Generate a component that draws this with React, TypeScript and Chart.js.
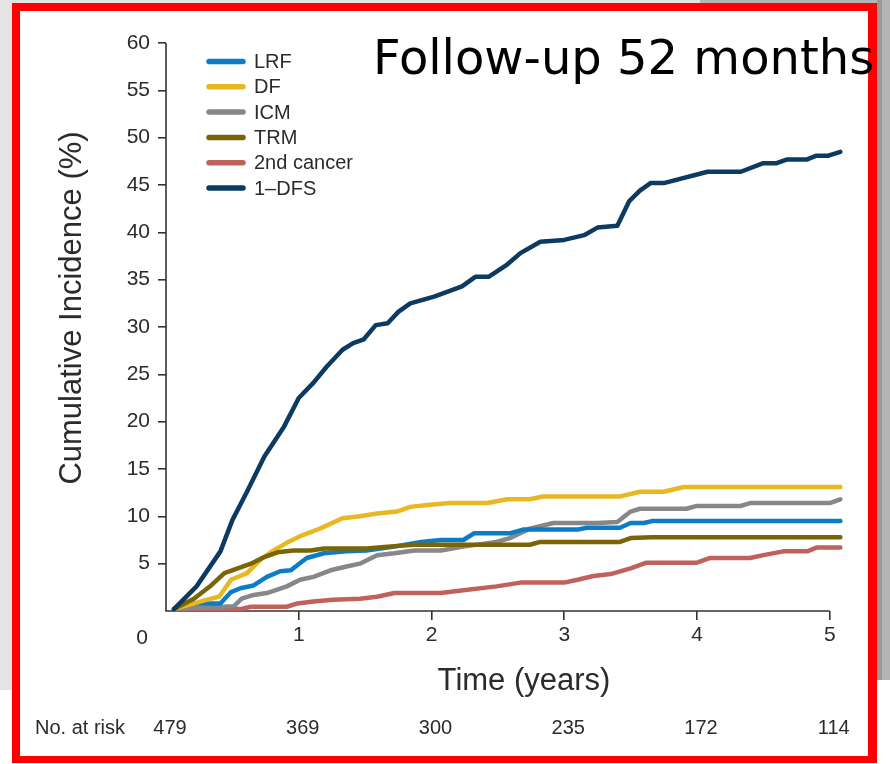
import React, { useEffect, useRef } from 'react';
import { Chart, registerables } from 'chart.js';

Chart.register(...registerables);

// ---- data (time in years, cumulative incidence in %) ----
const lrfT = [0.06, 0.11, 0.41, 0.49, 0.56, 0.66, 0.76, 0.86, 0.94, 1.06, 1.19, 1.36, 1.51, 1.72, 1.92, 2.07, 2.24, 2.32, 2.59, 2.69, 3.1, 3.17, 3.42, 3.5, 3.6, 3.66, 5.08];
const lrfV = [0.2, 0.8, 0.8, 2.0, 2.4, 2.7, 3.6, 4.2, 4.3, 5.6, 6.1, 6.3, 6.4, 6.8, 7.3, 7.5, 7.5, 8.2, 8.2, 8.6, 8.6, 8.8, 8.8, 9.3, 9.3, 9.5, 9.5];

const dfT = [0.06, 0.31, 0.4, 0.49, 0.61, 0.71, 0.81, 0.91, 1.01, 1.16, 1.33, 1.46, 1.59, 1.74, 1.84, 1.97, 2.14, 2.42, 2.57, 2.74, 2.84, 3.42, 3.57, 3.75, 3.9, 5.08];
const dfV = [0.2, 1.2, 1.5, 3.3, 4.0, 5.4, 6.4, 7.2, 7.9, 8.7, 9.8, 10.0, 10.3, 10.5, 11.0, 11.2, 11.4, 11.4, 11.8, 11.8, 12.1, 12.1, 12.6, 12.6, 13.1, 13.1];

const icmT = [0.06, 0.51, 0.57, 0.66, 0.76, 0.91, 1.01, 1.11, 1.24, 1.36, 1.46, 1.59, 1.72, 1.87, 2.07, 2.24, 2.49, 2.59, 2.74, 2.92, 3.25, 3.4, 3.5, 3.57, 3.92, 4.0, 4.33, 4.4, 5.0, 5.08];
const icmV = [0.2, 0.5, 1.3, 1.7, 1.9, 2.6, 3.3, 3.6, 4.3, 4.7, 5.0, 5.9, 6.1, 6.4, 6.4, 6.8, 7.3, 7.7, 8.7, 9.3, 9.3, 9.4, 10.5, 10.8, 10.8, 11.1, 11.1, 11.4, 11.4, 11.8];

const trmT = [0.06, 0.21, 0.34, 0.44, 0.54, 0.64, 0.74, 0.84, 0.96, 1.09, 1.19, 1.51, 1.67, 1.87, 2.74, 2.82, 3.42, 3.5, 3.66, 5.08];
const trmV = [0.2, 1.3, 2.7, 4.0, 4.5, 5.0, 5.7, 6.2, 6.4, 6.4, 6.6, 6.6, 6.8, 7.0, 7.0, 7.3, 7.3, 7.7, 7.8, 7.8];

const secT = [0.06, 0.56, 0.64, 0.91, 0.99, 1.11, 1.26, 1.46, 1.59, 1.72, 2.07, 2.24, 2.49, 2.67, 3.0, 3.1, 3.22, 3.35, 3.5, 3.62, 4.0, 4.1, 4.4, 4.5, 4.65, 4.83, 4.9, 5.08];
const secV = [0.2, 0.2, 0.45, 0.45, 0.8, 1.0, 1.2, 1.3, 1.5, 1.9, 1.9, 2.2, 2.6, 3.0, 3.0, 3.3, 3.7, 3.9, 4.5, 5.1, 5.1, 5.6, 5.6, 5.9, 6.3, 6.3, 6.7, 6.7];

const dfsT = [0.06, 0.23, 0.41, 0.5, 0.61, 0.74, 0.89, 1.0, 1.11, 1.21, 1.33, 1.41, 1.49, 1.58, 1.67, 1.75, 1.84, 2.02, 2.23, 2.33, 2.43, 2.57, 2.67, 2.82, 3.0, 3.15, 3.25, 3.4, 3.49, 3.57, 3.65, 3.75, 4.08, 4.33, 4.5, 4.6, 4.68, 4.83, 4.9, 4.99, 5.08];
const dfsV = [0.2, 2.6, 6.3, 9.6, 12.6, 16.3, 19.5, 22.5, 24.1, 25.8, 27.6, 28.3, 28.7, 30.2, 30.4, 31.6, 32.5, 33.2, 34.3, 35.3, 35.3, 36.6, 37.8, 39.0, 39.2, 39.7, 40.5, 40.7, 43.3, 44.4, 45.2, 45.2, 46.4, 46.4, 47.3, 47.3, 47.7, 47.7, 48.1, 48.1, 48.5];

const seriesLabels = ['LRF', 'DF', 'ICM', 'TRM', '2nd cancer', '1\u2013DFS'];
const seriesColors = ['#0b7dc6', '#e9b722', '#87878a', '#7b6406', '#c0625b', '#0c3a60'];

const yTickValues = [5, 10, 15, 20, 25, 30, 35, 40, 45, 50, 55, 60];
const xTickValues = [1, 2, 3, 4, 5];

const atRiskYears = [0, 1, 2, 3, 4, 5];
const atRisk = [479, 369, 300, 235, 172, 114];

const FONT = '"Liberation Sans", Arial, Helvetica, sans-serif';
const TEXT = '#2b2b2b';
const AXIS = '#333333';

const pts = (t: number[], v: number[]) => t.map((x, i) => ({ x, y: v[i] }));

const decor = {
  id: 'decor',
  beforeDatasetsDraw(chart: any) {
    const { ctx, scales } = chart;
    const x = scales.x;
    const y = scales.y;
    ctx.save();
    ctx.strokeStyle = AXIS;
    ctx.lineWidth = 1.6;
    ctx.beginPath();
    ctx.moveTo(x.getPixelForValue(0), y.getPixelForValue(60));
    ctx.lineTo(x.getPixelForValue(0), y.getPixelForValue(0));
    ctx.lineTo(x.getPixelForValue(5), y.getPixelForValue(0));
    ctx.stroke();
    ctx.restore();
  },
  afterDraw(chart: any) {
    const { ctx, scales, chartArea } = chart;
    const x = scales.x;
    const y = scales.y;
    ctx.save();
    ctx.fillStyle = TEXT;

    // "0" label of the y axis, sitting on the tick-label row
    ctx.font = `21px ${FONT}`;
    ctx.textAlign = 'right';
    ctx.textBaseline = 'alphabetic';
    ctx.fillText('0', x.getPixelForValue(0) - 18, y.getPixelForValue(0) + 33);

    // axis titles
    ctx.font = `31px ${FONT}`;
    ctx.textAlign = 'center';
    ctx.fillText('Time (years)', 524, 690);
    ctx.save();
    ctx.translate(81, 308);
    ctx.rotate(-Math.PI / 2);
    ctx.fillText('Cumulative Incidence (%)', 0, 0);
    ctx.restore();

    // legend
    const ds = chart.data.datasets;
    const lx = chartArea.left + 43;
    for (let i = 0; i < ds.length; i++) {
      const cy = chartArea.top + 18.5 + i * 25.3;
      ctx.strokeStyle = ds[i].borderColor;
      ctx.lineWidth = 5.5;
      ctx.lineCap = 'round';
      ctx.beginPath();
      ctx.moveTo(lx, cy);
      ctx.lineTo(lx + 34, cy);
      ctx.stroke();
      ctx.font = `20px ${FONT}`;
      ctx.textAlign = 'left';
      ctx.textBaseline = 'middle';
      ctx.fillStyle = TEXT;
      ctx.fillText(ds[i].label, lx + 45, cy + 1);
    }

    // number at risk row
    ctx.font = `20px ${FONT}`;
    ctx.textBaseline = 'alphabetic';
    ctx.textAlign = 'left';
    ctx.fillText('No. at risk', 35, 734);
    ctx.textAlign = 'center';
    for (let i = 0; i < atRisk.length; i++) {
      ctx.fillText(String(atRisk[i]), x.getPixelForValue(atRiskYears[i]) + 4, 734);
    }
    ctx.restore();
  },
};

export default function App() {
  const ref = useRef<HTMLCanvasElement>(null);

  useEffect(() => {
    const canvas = ref.current as HTMLCanvasElement;
    const series = [
      pts(lrfT, lrfV),
      pts(dfT, dfV),
      pts(icmT, icmV),
      pts(trmT, trmV),
      pts(secT, secV),
      pts(dfsT, dfsV),
    ];
    const orders = [3, 2, 4, 1, 5, 0];
    const chart = new Chart(canvas, {
      type: 'line',
      data: {
        datasets: series.map((d, i) => ({
          label: seriesLabels[i],
          data: d,
          borderColor: seriesColors[i],
          backgroundColor: seriesColors[i],
          borderWidth: 4.5,
          pointRadius: 0,
          tension: 0,
          fill: false,
          borderJoinStyle: 'round',
          borderCapStyle: 'round',
          clip: 12,
          order: orders[i],
        })),
      },
      options: {
        responsive: false,
        animation: false,
        layout: { padding: { left: 0, right: 47, top: 43, bottom: 64 } },
        plugins: { legend: { display: false }, tooltip: { enabled: false } },
        scales: {
          x: {
            type: 'linear',
            min: 0,
            max: 5.1,
            afterBuildTicks: (s: any) => {
              s.ticks = xTickValues.map((v) => ({ value: v }));
            },
            afterFit: (s: any) => {
              s.height = 89;
            },
            border: { display: false },
            grid: { display: true, drawOnChartArea: false, drawTicks: true, tickLength: 9, color: AXIS, lineWidth: 1.6 },
            ticks: { font: { family: FONT, size: 21 }, color: TEXT, padding: 3, maxRotation: 0, autoSkip: false },
          },
          y: {
            type: 'linear',
            min: 0,
            max: 60,
            afterBuildTicks: (s: any) => {
              s.ticks = yTickValues.map((v) => ({ value: v }));
            },
            afterFit: (s: any) => {
              s.width = 166;
            },
            border: { display: false },
            grid: { display: true, drawOnChartArea: false, drawTicks: true, tickLength: 8, color: AXIS, lineWidth: 1.6 },
            ticks: { font: { family: FONT, size: 21 }, color: TEXT, padding: 8, autoSkip: false },
          },
        },
      } as any,
      plugins: [decor],
    });
    return () => chart.destroy();
  }, []);

  return (
    <div style={{ position: 'fixed', left: 0, top: 0, width: 890, height: 764, background: '#ffffff', overflow: 'hidden' }}>
      <div style={{ position: 'absolute', left: 0, top: 0, width: 12, height: 690, background: '#e4e4e4' }} />
      <div style={{ position: 'absolute', left: 0, top: 0, width: 700, height: 3, background: '#e4e4e4' }} />
      <div style={{ position: 'absolute', left: 700, top: 0, width: 190, height: 3, background: '#b4b4b4' }} />
      <div style={{ position: 'absolute', left: 877, top: 0, width: 13, height: 680, background: '#b4b4b4' }} />
      <div style={{ position: 'absolute', left: 877, top: 0, width: 5, height: 680, background: '#999999' }} />
      <canvas ref={ref} width={890} height={764} style={{ position: 'absolute', left: 0, top: 0, width: 890, height: 764, display: 'block' }} />
      <div
        style={{
          position: 'absolute',
          left: 12,
          top: 3,
          width: 865,
          height: 760,
          boxSizing: 'border-box',
          borderStyle: 'solid',
          borderColor: '#ff0000',
          borderWidth: '8px 9px 7px 8px',
        }}
      />
      <div
        style={{
          position: 'absolute',
          left: 373,
          top: 29,
          fontFamily: '"DejaVu Sans", Verdana, sans-serif',
          fontSize: 48,
          lineHeight: 'normal',
          color: '#000000',
          whiteSpace: 'nowrap',
        }}
      >
        Follow-up 52 months
      </div>
    </div>
  );
}
